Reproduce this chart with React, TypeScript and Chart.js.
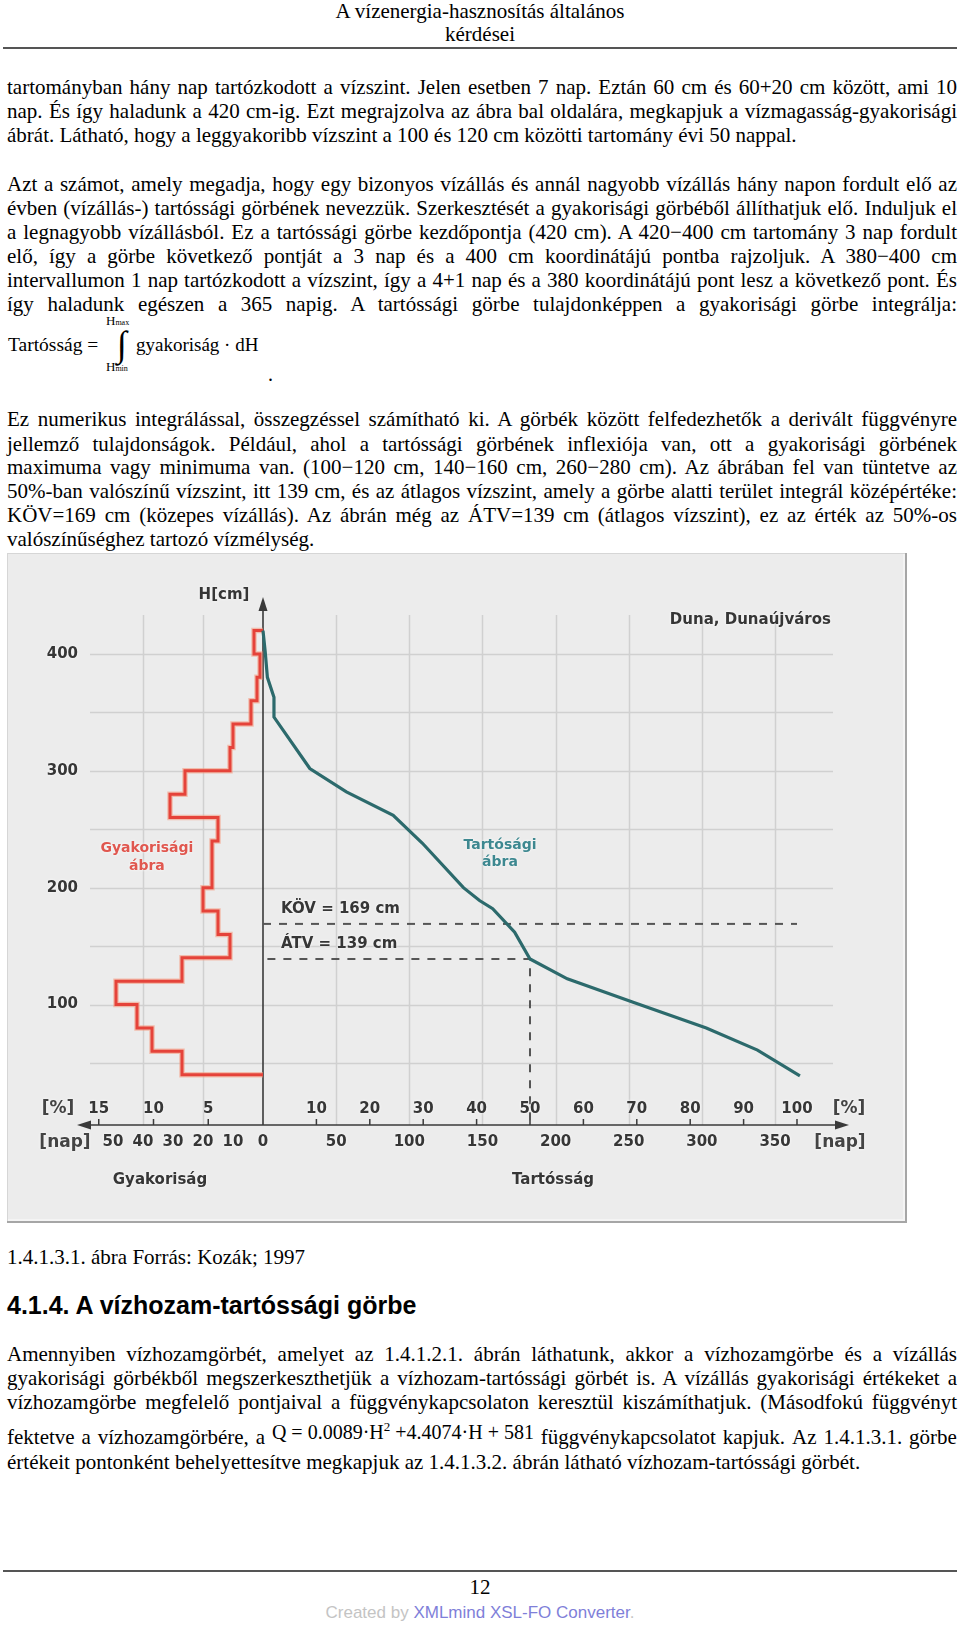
import React, { useEffect, useLayoutEffect, useRef } from "react";
import { Chart, registerables } from "chart.js";

Chart.register(...registerables);

// ---------- DATA ----------
// Frequency (Gyakoriság) histogram: 20 cm water-level bins, days per bin
const binTops = [420, 400, 380, 360, 340, 320, 300, 280, 260, 240, 220, 200, 180, 160, 140, 120, 100, 80, 60];
const binBottoms = [400, 380, 360, 340, 320, 300, 280, 260, 240, 220, 200, 180, 160, 140, 120, 100, 80, 60, 40];
const freqDays = [3, 1, 2, 4, 10, 11, 26, 31, 15, 17, 17, 20, 15, 11, 27, 49, 42, 37, 27];

// Duration (Tartósság) curve: days vs water level (cm)
const durDays = [0, 1.5, 3, 7.5, 7.5, 32, 57, 89, 109, 137, 148, 157, 172, 182.5, 208, 253, 303, 338, 367];
const durLevels = [420, 402, 380, 363, 346, 302, 282, 262, 238, 200, 189, 182, 162, 139, 122, 102, 80, 61, 39];

// Characteristic levels
const kovLevel = 169;
const atvLevel = 139;
const atvDays = 182.5;
const daysPerYear = 365;

// Axis ticks / labels
const hLabelTicks = [100, 200, 300, 400];
const hGridLevels = [50, 100, 150, 200, 250, 300, 350, 400];
const rightPctTicks = [10, 20, 30, 40, 50, 60, 70, 80, 90, 100];
const rightDayTicks = [50, 100, 150, 200, 250, 300, 350];
const leftPctTicks = [15, 10, 5];
const leftDayTicks = [50, 40, 30, 20, 10, 0];
const leftGridDays = [20, 40];

// ---------- CHART ----------
function DurationChart() {
  const ref = useRef<HTMLCanvasElement>(null);

  useEffect(() => {
    const canvas = ref.current;
    if (!canvas) return;
    const W = 900;
    const Hc = 670;
    const area = { left: 83, right: 826, top: 62, bottom: 572 };
    const zeroX = 256; // canvas x of the H axis
    const rPx = 1.463; // px per day, right (duration)
    const lPx = 3.0; // px per day, left (frequency)
    const hPx = 1.1686; // px per cm
    const hZeroY = 568.4; // canvas y of H = 0

    const xMin = -(zeroX - area.left) / rPx;
    const xMax = (area.right - zeroX) / rPx;
    const xlMax = (zeroX - area.left) / lPx;
    const xlMin = -(area.right - zeroX) / lPx;
    const yMin = -(area.bottom - hZeroY) / hPx;
    const yMax = (hZeroY - area.top) / hPx;

    const freqPoints: { x: number; y: number }[] = [{ x: 0, y: binTops[0] }];
    freqDays.forEach((d, i) => {
      freqPoints.push({ x: d, y: binTops[i] });
      freqPoints.push({ x: d, y: binBottoms[i] });
    });
    freqPoints.push({ x: 0, y: binBottoms[binBottoms.length - 1] });

    const durPoints = durDays.map((d, i) => ({ x: d, y: durLevels[i] }));

    const LABEL = "#363636";
    const font = (s: number) => `bold ${s}px "DejaVu Sans", Verdana, sans-serif`;

    const deco = {
      id: "deco",
      beforeDatasetsDraw(chart: any) {
        const { ctx, chartArea: a, scales } = chart;
        const x = scales.x, xl = scales.xL, y = scales.y;
        const line = (x1: number, y1: number, x2: number, y2: number) => {
          ctx.beginPath();
          ctx.moveTo(x1, y1);
          ctx.lineTo(x2, y2);
          ctx.stroke();
        };
        ctx.save();
        ctx.strokeStyle = "#d0d0d0";
        ctx.lineWidth = 1.5;
        hGridLevels.forEach((v) => {
          const py = Math.round(y.getPixelForValue(v)) + 0.5;
          line(a.left, py, a.right, py);
        });
        rightDayTicks.forEach((d) => {
          const px = Math.round(x.getPixelForValue(d)) + 0.5;
          line(px, a.top, px, a.bottom);
        });
        leftGridDays.forEach((d) => {
          const px = Math.round(xl.getPixelForValue(d)) + 0.5;
          line(px, a.top, px, a.bottom);
        });

        // axes
        ctx.strokeStyle = "#3a3a3a";
        ctx.fillStyle = "#3a3a3a";
        ctx.lineWidth = 1.6;
        const x0 = x.getPixelForValue(0);
        const yb = a.bottom;
        line(x0, 52, x0, yb);
        ctx.beginPath();
        ctx.moveTo(x0, 44);
        ctx.lineTo(x0 - 4.5, 58);
        ctx.lineTo(x0 + 4.5, 58);
        ctx.closePath();
        ctx.fill();
        line(78, yb, 834, yb);
        ctx.beginPath();
        ctx.moveTo(70, yb);
        ctx.lineTo(84, yb - 4.5);
        ctx.lineTo(84, yb + 4.5);
        ctx.closePath();
        ctx.fill();
        ctx.beginPath();
        ctx.moveTo(842, yb);
        ctx.lineTo(828, yb - 4.5);
        ctx.lineTo(828, yb + 4.5);
        ctx.closePath();
        ctx.fill();

        // percentage tick marks
        ctx.lineWidth = 1.5;
        rightPctTicks.forEach((p) => {
          const px = x.getPixelForValue((p / 100) * daysPerYear);
          line(px, yb - 6, px, yb);
        });
        leftPctTicks.forEach((p) => {
          const px = xl.getPixelForValue((p / 100) * daysPerYear);
          line(px, yb - 6, px, yb);
        });
        ctx.restore();
      },
      afterDatasetsDraw(chart: any) {
        const { ctx, chartArea: a, scales } = chart;
        const x = scales.x, xl = scales.xL, y = scales.y;
        const yb = a.bottom;
        ctx.save();
        ctx.shadowColor = "rgba(255,255,255,0.95)";
        ctx.shadowBlur = 3;
        ctx.textBaseline = "middle";
        const text = (t: string, px: number, py: number, align: CanvasTextAlign, f: string, c: string) => {
          ctx.font = f;
          ctx.fillStyle = c;
          ctx.textAlign = align;
          ctx.fillText(t, px, py);
        };
        hLabelTicks.forEach((v) => text(String(v), 71, y.getPixelForValue(v), "right", font(15), LABEL));
        text("H[cm]", 217, 42, "center", font(15), LABEL);
        text("Duna, Dunaújváros", 824, 67, "right", font(15), LABEL);

        rightPctTicks.forEach((p) =>
          text(String(p), x.getPixelForValue((p / 100) * daysPerYear), yb - 16, "center", font(15), LABEL)
        );
        leftPctTicks.forEach((p) =>
          text(String(p), xl.getPixelForValue((p / 100) * daysPerYear), yb - 16, "center", font(15), LABEL)
        );
        rightDayTicks.forEach((d) => text(String(d), x.getPixelForValue(d), yb + 17, "center", font(15), LABEL));
        leftDayTicks.forEach((d) => text(String(d), xl.getPixelForValue(d), yb + 17, "center", font(15), LABEL));

        text("[%]", 51, yb - 16, "center", font(17), "#444");
        text("[nap]", 58, yb + 18, "center", font(17), "#444");
        text("[%]", 842, yb - 16, "center", font(17), "#444");
        text("[nap]", 833, yb + 18, "center", font(17), "#444");

        text("Gyakoriság", 153, 627, "center", font(15), LABEL);
        text("Tartósság", 546, 627, "center", font(15), LABEL);

        text("KÖV = 169 cm", 274, y.getPixelForValue(kovLevel) - 15, "left", font(15), LABEL);
        text("ÁTV = 139 cm", 274, y.getPixelForValue(atvLevel) - 15, "left", font(15), LABEL);

        const gx = xl.getPixelForValue(38.7);
        const gy = y.getPixelForValue(226);
        text("Gyakorisági", gx, gy - 8.5, "center", font(14), "#e0574f");
        text("ábra", gx, gy + 9, "center", font(14), "#e0574f");

        const tx = x.getPixelForValue(162);
        const ty = y.getPixelForValue(229);
        text("Tartósági", tx, ty - 8.5, "center", font(14), "#3d8890");
        text("ábra", tx, ty + 9, "center", font(14), "#3d8890");
        ctx.restore();
      },
    };

    const chart = new Chart(canvas, {
      type: "line",
      data: {
        datasets: [
          {
            label: "Tartósság",
            data: durPoints,
            xAxisID: "x",
            yAxisID: "y",
            borderColor: "#2c6a6c",
            borderWidth: 3.2,
            pointRadius: 0,
            tension: 0,
            fill: false,
          },
          {
            label: "Gyakoriság",
            data: freqPoints,
            xAxisID: "xL",
            yAxisID: "y",
            borderColor: "#e5433a",
            borderWidth: 3,
            pointRadius: 0,
            tension: 0,
            fill: false,
            borderJoinStyle: "miter",
          },
          {
            label: "Gyakoriság glow",
            data: freqPoints,
            xAxisID: "xL",
            yAxisID: "y",
            borderColor: "rgba(245,150,120,0.55)",
            borderWidth: 5.5,
            pointRadius: 0,
            tension: 0,
            fill: false,
          },
          {
            label: "KÖV",
            data: [
              { x: 0, y: kovLevel },
              { x: daysPerYear, y: kovLevel },
            ],
            xAxisID: "x",
            yAxisID: "y",
            borderColor: "#555",
            borderWidth: 2,
            borderDash: [8, 8],
            pointRadius: 0,
            fill: false,
          },
          {
            label: "ÁTV",
            data: [
              { x: 3, y: atvLevel },
              { x: atvDays, y: atvLevel },
              { x: atvDays, y: yMin },
            ],
            xAxisID: "x",
            yAxisID: "y",
            borderColor: "#555",
            borderWidth: 2,
            borderDash: [8, 8],
            pointRadius: 0,
            fill: false,
          },
        ],
      },
      options: {
        responsive: false,
        animation: false,
        devicePixelRatio: 1,
        layout: { padding: { left: area.left, right: W - area.right, top: area.top, bottom: Hc - area.bottom } },
        plugins: { legend: { display: false }, tooltip: { enabled: false }, title: { display: false } },
        events: [],
        scales: {
          x: { type: "linear", display: false, min: xMin, max: xMax },
          xL: { type: "linear", display: false, min: xlMin, max: xlMax, reverse: true },
          y: { type: "linear", display: false, min: yMin, max: yMax },
        },
      } as any,
      plugins: [deco],
    });
    return () => chart.destroy();
  }, []);

  return (
    <div
      style={{
        position: "absolute",
        left: 7,
        top: 553,
        width: 900,
        height: 670,
        background: "#ececec",
        boxShadow: "inset -2px -2px 0 #a6a6a6, inset 1px 1px 0 #d6d6d6, inset -4px -4px 0 #f4f4f4",
      }}
    >
      <canvas ref={ref} width={900} height={670} style={{ position: "absolute", left: 0, top: 0 }} />
    </div>
  );
}

// ---------- TEXT ----------
const FS = 21;
const LINE_W = 950;
const serif: React.CSSProperties = {
  fontFamily: '"Liberation Serif", "Times New Roman", serif',
  fontSize: FS,
  color: "#000",
};

function TextLine({ top, text, justify }: { top: number; text: string; justify?: boolean }) {
  const r = useRef<HTMLSpanElement>(null);
  useLayoutEffect(() => {
    const apply = () => {
      const el = r.current;
      if (!el || !justify) return;
      el.style.wordSpacing = "0px";
      el.style.transform = "none";
      const w = el.getBoundingClientRect().width;
      const n = (text.match(/ /g) || []).length;
      if (!n) return;
      let ws = (LINE_W - w) / n;
      if (ws < -2) {
        ws = -2;
        const w2 = w - 2 * n;
        el.style.transformOrigin = "left center";
        el.style.transform = `scaleX(${LINE_W / w2})`;
      }
      el.style.wordSpacing = ws + "px";
    };
    apply();
    const fonts: any = (document as any).fonts;
    if (fonts && fonts.ready) fonts.ready.then(apply);
  }, [text, justify]);
  return (
    <div
      style={{
        ...serif,
        position: "absolute",
        left: 7,
        top: top - 12,
        height: 24,
        lineHeight: "24px",
        whiteSpace: "nowrap",
      }}
    >
      <span ref={r} style={{ display: "inline-block" }}>
        {text}
      </span>
    </div>
  );
}

const p1 = [
  "tartományban hány nap tartózkodott a vízszint. Jelen esetben 7 nap. Eztán 60 cm és 60+20 cm között, ami 10",
  "nap. És így haladunk a 420 cm-ig. Ezt megrajzolva az ábra bal oldalára, megkapjuk a vízmagasság-gyakorisági",
  "ábrát. Látható, hogy a leggyakoribb vízszint a 100 és 120 cm közötti tartomány évi 50 nappal.",
];
const p1Y = [87, 111, 135];

const p2 = [
  "Azt a számot, amely megadja, hogy egy bizonyos vízállás és annál nagyobb vízállás hány napon fordult elő az",
  "évben (vízállás-) tartóssági görbének nevezzük. Szerkesztését a gyakorisági görbéből állíthatjuk elő. Induljuk el",
  "a legnagyobb vízállásból. Ez a tartóssági görbe kezdőpontja (420 cm). A 420−400 cm tartomány 3 nap fordult",
  "elő, így a görbe következő pontját a 3 nap és a 400 cm koordinátájú pontba rajzoljuk. A 380−400 cm",
  "intervallumon 1 nap tartózkodott a vízszint, így a 4+1 nap és a 380 koordinátájú pont lesz a következő pont. És",
  "így haladunk egészen a 365 napig. A tartóssági görbe tulajdonképpen a gyakorisági görbe integrálja:",
];
const p2Y = [184, 208, 232, 256, 280, 304];

const p3 = [
  "Ez numerikus integrálással, összegzéssel számítható ki. A görbék között felfedezhetők a derivált függvényre",
  "jellemző tulajdonságok. Például, ahol a tartóssági görbének inflexiója van, ott a gyakorisági görbének",
  "maximuma vagy minimuma van. (100−120 cm, 140−160 cm, 260−280 cm). Az ábrában fel van tüntetve az",
  "50%-ban valószínű vízszint, itt 139 cm, és az átlagos vízszint, amely a görbe alatti terület integrál középértéke:",
  "KÖV=169 cm (közepes vízállás). Az ábrán még az ÁTV=139 cm (átlagos vízszint), ez az érték az 50%-os",
  "valószínűséghez tartozó vízmélység.",
];
const p3Y = [419, 444, 467, 491, 515, 539];

const p4 = [
  "Amennyiben vízhozamgörbét, amelyet az 1.4.1.2.1. ábrán láthatunk, akkor a vízhozamgörbe és a vízállás",
  "gyakorisági görbékből megszerkeszthetjük a vízhozam-tartóssági görbét is. A vízállás gyakorisági értékeket a",
  "vízhozamgörbe megfelelő pontjaival a függvénykapcsolaton keresztül kiszámíthatjuk. (Másodfokú függvényt",
];
const p4Y = [1354, 1378, 1402];

function Page() {
  const abs = (l: number, t: number, extra: React.CSSProperties = {}): React.CSSProperties => ({
    position: "absolute",
    left: l,
    top: t,
    whiteSpace: "nowrap",
    ...extra,
  });
  const fTimes: React.CSSProperties = { fontFamily: '"Liberation Serif", "Times New Roman", serif', color: "#000" };

  return (
    <div style={{ position: "absolute", left: 0, top: 0, width: 960, height: 1625, background: "#fff", overflow: "hidden" }}>
      {/* header */}
      <div style={{ ...serif, position: "absolute", left: 0, top: 0, width: 960, textAlign: "center", lineHeight: "23px" }}>
        A vízenergia-hasznosítás általános
        <br />
        kérdései
      </div>
      <div style={{ position: "absolute", left: 3, top: 47, width: 954, height: 2, background: "#555" }} />

      {p1.map((t, i) => (
        <TextLine key={"a" + i} top={p1Y[i]} text={t} justify={i < p1.length - 1} />
      ))}
      {p2.map((t, i) => (
        <TextLine key={"b" + i} top={p2Y[i]} text={t} justify />
      ))}

      {/* formula */}
      <div style={abs(8, 333, { ...fTimes, fontSize: 19.5, lineHeight: "24px" })}>Tartósság =</div>
      <div style={abs(106, 312, { ...fTimes, fontSize: 13, lineHeight: "18px" })}>
        H<span style={{ fontSize: 8 }}>max</span>
      </div>
      <div style={abs(117, 322, { ...fTimes, fontSize: 36, lineHeight: "44px" })}>∫</div>
      <div style={abs(106, 358, { ...fTimes, fontSize: 13, lineHeight: "18px" })}>
        H<span style={{ fontSize: 8 }}>min</span>
      </div>
      <div style={abs(136, 333, { ...fTimes, fontSize: 19, lineHeight: "24px" })}>gyakoriság · dH</div>
      <div style={abs(268, 362, { ...fTimes, fontSize: 20, lineHeight: "24px" })}>.</div>

      {p3.map((t, i) => (
        <TextLine key={"c" + i} top={p3Y[i]} text={t} justify={i < p3.length - 1} />
      ))}

      <DurationChart />

      <TextLine top={1257} text="1.4.1.3.1. ábra Forrás: Kozák; 1997" />
      <div
        style={abs(7, 1290, {
          fontFamily: '"Liberation Sans", Arial, sans-serif',
          fontWeight: "bold",
          fontSize: 25,
          lineHeight: "30px",
          color: "#000",
        })}
      >
        4.1.4. A vízhozam-tartóssági görbe
      </div>

      {p4.map((t, i) => (
        <TextLine key={"d" + i} top={p4Y[i]} text={t} justify />
      ))}
      <div
        style={{
          ...serif,
          position: "absolute",
          left: 7,
          top: 1425,
          width: LINE_W,
          height: 24,
          lineHeight: "24px",
          whiteSpace: "nowrap",
          display: "flex",
          justifyContent: "space-between",
          alignItems: "flex-start",
        }}
      >
        {["fektetve", "a", "vízhozamgörbére,", "a"].map((w, i) => (
          <span key={i}>{w}</span>
        ))}
        <span style={{ fontSize: 20, position: "relative", top: -10 }}>
          Q = 0.0089·H<sup style={{ fontSize: 13 }}>2</sup> +4.4074·H + 581
        </span>
        {["függvénykapcsolatot", "kapjuk.", "Az", "1.4.1.3.1.", "görbe"].map((w, i) => (
          <span key={"e" + i}>{w}</span>
        ))}
      </div>
      <TextLine top={1462} text="értékeit pontonként behelyettesítve megkapjuk az 1.4.1.3.2. ábrán látható vízhozam-tartóssági görbét." />

      {/* footer */}
      <div style={{ position: "absolute", left: 3, top: 1570, width: 954, height: 2, background: "#555" }} />
      <div style={{ ...serif, position: "absolute", left: 0, top: 1575, width: 960, textAlign: "center", lineHeight: "24px" }}>
        12
      </div>
      <div
        style={{
          position: "absolute",
          left: 0,
          top: 1603,
          width: 960,
          textAlign: "center",
          lineHeight: "20px",
          fontFamily: '"Liberation Sans", Arial, sans-serif',
          fontSize: 17,
          color: "#c4c4c4",
        }}
      >
        Created by <span style={{ color: "#7f7fd9" }}>XMLmind XSL-FO Converter</span>.
      </div>
    </div>
  );
}

export default function App() {
  return <Page />;
}
